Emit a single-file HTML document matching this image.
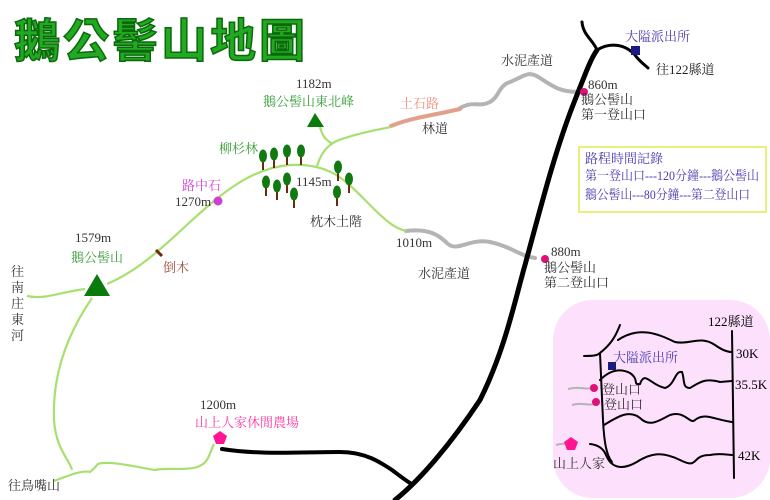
<!DOCTYPE html>
<html><head><meta charset="utf-8"><style>
html,body{margin:0;padding:0;background:#fff;}
svg{display:block;}
text{font-family:"Liberation Serif","Noto Serif CJK SC",serif;font-size:13px;}
</style></head><body>
<svg width="770" height="500" viewBox="0 0 770 500" xmlns="http://www.w3.org/2000/svg">
<!-- title -->
<text x="14" y="57" style="font-family:'Liberation Sans','Noto Sans CJK TC',sans-serif;font-size:46px;font-weight:bold;letter-spacing:3px" fill="#22a822" stroke="#0a6a0a" stroke-width="1.5">鵝公髻山地圖</text>

<!-- pink inset -->
<rect x="553" y="300" width="217" height="198" rx="40" fill="#fde0fb"/>

<!-- yellow box -->
<rect x="579" y="147" width="187" height="65" fill="#fff" stroke="#e6f07a" stroke-width="2"/>
<text x="585" y="163" fill="#4a3cb0" font-size="12">路程時間記錄</text>
<text x="585" y="180" fill="#4a3cb0" font-size="11.5" textLength="174" lengthAdjust="spacingAndGlyphs">第一登山口---120分鐘---鵝公髻山</text>
<text x="585" y="199" fill="#4a3cb0" font-size="11.5" textLength="165" lengthAdjust="spacingAndGlyphs">鵝公髻山---80分鐘---第二登山口</text>

<!-- gray roads -->
<g fill="none" stroke="#b4b4b4" stroke-width="4" stroke-linecap="round">
<path d="M460 108 C475 100,478 108,490 102 C500 96,498 86,510 82 C525 76,528 70,540 78 C552 86,560 92,578 92"/>
<path d="M406 231 C430 228,440 236,448 244 C458 252,470 238,490 242 C510 246,520 256,535 258"/>
</g>
<path d="M391 126 C410 118,430 116,460 109" fill="none" stroke="#e0a08c" stroke-width="4" stroke-linecap="round"/>

<!-- green trails -->
<g fill="none" stroke="#a8e070" stroke-width="2.2">
<path d="M27 296 C45 300,60 292,85 289"/>
<path d="M107 284 C140 270,165 245,190 222 C220 195,250 168,290 165 C330 163,345 180,365 200 C380 215,392 228,406 231"/>
<path d="M317 166 C322 150,330 142,345 138 C360 133,375 130,391 127"/>
<path d="M333 144 C325 140,322 135,320 127"/>
<path d="M92 298 C70 330,52 370,54 420 C56 450,70 460,72 470"/>
<path d="M54 481 C70 475,82 470,90 472 C95 468,96 466,98 464 C110 460,140 468,155 470 C170 466,200 475,208 458 C212 450,212 447,214 444"/>
</g>

<!-- black roads -->
<g fill="none" stroke="#000" stroke-linecap="round">
<path d="M395 500 C420 480,450 445,480 400 C505 350,515 300,525 265 C540 210,555 150,575 100 C585 75,590 60,597 50" stroke-width="5"/>
<path d="M597 50 C593 40,583 35,582 22" stroke-width="3"/>
<path d="M597 50 C610 42,625 44,635 55 C640 62,645 65,648 68" stroke-width="3"/>
<path d="M222 449 C260 455,300 452,340 452 C365 452,380 462,392 470 C400 476,405 480,410 483" stroke-width="4"/>
</g>

<!-- inset lines -->
<g fill="none" stroke="#000" stroke-width="2" stroke-linecap="round">
<path d="M732 331 L734 478"/>
<path d="M584 356 C595 356,598 355,600 353 L603 420 C604 440,606 455,612 462"/>
<path d="M600 353 C610 345,615 338,620 325"/>
<path d="M618 340 C640 325,660 335,675 342 C690 345,700 335,715 345 C722 350,728 352,732 352"/>
<path d="M600 380 C610 370,620 368,630 373 C640 380,632 385,640 384 C645 370,650 385,665 388 C675 385,675 370,682 372 C685 380,682 388,690 388 C700 382,705 378,720 382 L732 381"/>
<path d="M604 425 C620 415,630 410,640 418 C650 428,660 420,670 415 C685 410,690 425,695 420 C705 412,715 420,732 422"/>
<path d="M590 444 C600 445,604 450,606 455 C612 470,625 470,640 460 C650 455,660 450,680 460 C700 470,690 455,710 455 C720 453,728 455,732 455"/>
</g>
<g fill="none" stroke="#b4b4b4" stroke-width="2">
<path d="M568 389 C580 386,585 390,595 388"/>
<path d="M572 405 C582 402,588 406,596 404"/>
<path d="M556 445 C562 443,566 444,570 444"/>
</g>
<rect x="608" y="362" width="8" height="8" fill="#1a1a80"/>
<circle cx="594" cy="388" r="4" fill="#e0107a"/>
<circle cx="596" cy="402" r="4" fill="#e0107a"/>
<polygon points="571,437 578,442 575,450 567,450 564,442" fill="#ff1493"/>
<text x="708" y="326" fill="#000" font-size="12">122縣道</text>
<text x="736" y="358" fill="#000" font-size="12">30K</text>
<text x="735" y="389" fill="#000" font-size="12">35.5K</text>
<text x="738" y="460" fill="#000" font-size="12">42K</text>
<text x="613" y="362" fill="#4a3cb0" font-size="12">大隘派出所</text>
<text x="602" y="394" fill="#333" font-size="12">登山口</text>
<text x="604" y="409" fill="#333" font-size="12">登山口</text>
<text x="553" y="468" fill="#333" font-size="12">山上人家</text>

<!-- trees -->
<g>
<g fill="#6b2a10">
<rect x="262" y="158" width="2" height="12"/><rect x="273" y="156" width="2" height="12"/><rect x="286" y="153" width="2" height="12"/><rect x="300" y="153" width="2" height="12"/>
<rect x="265" y="184" width="2" height="12"/><rect x="276" y="188" width="2" height="12"/><rect x="286" y="181" width="2" height="12"/><rect x="293" y="196" width="2" height="12"/>
<rect x="337" y="169" width="2" height="12"/><rect x="348" y="181" width="2" height="12"/><rect x="336" y="194" width="2" height="12"/>
</g>
<g fill="#107a10">
<ellipse cx="263" cy="156" rx="4" ry="6.5"/><ellipse cx="274" cy="154" rx="4" ry="6.5"/><ellipse cx="287" cy="151" rx="4" ry="6.5"/><ellipse cx="301" cy="151" rx="4" ry="6.5"/>
<ellipse cx="266" cy="182" rx="4" ry="6.5"/><ellipse cx="277" cy="186" rx="4" ry="6.5"/><ellipse cx="287" cy="179" rx="4" ry="6.5"/><ellipse cx="294" cy="194" rx="4" ry="6.5"/>
<ellipse cx="338" cy="167" rx="4" ry="6.5"/><ellipse cx="349" cy="179" rx="4" ry="6.5"/><ellipse cx="337" cy="192" rx="4" ry="6.5"/>
</g>
</g>

<!-- markers -->
<polygon points="84,296 97,274 110,296" fill="#0a7a0a"/>
<polygon points="307,127 315,113 324,127" fill="#0a7a0a"/>
<circle cx="218" cy="201" r="4.5" fill="#d040d0"/>
<circle cx="584" cy="92" r="4" fill="#e0107a"/>
<circle cx="545" cy="259" r="4" fill="#e0107a"/>
<polygon points="220,431 227,436 224,444 216,444 213,436" fill="#ff1493"/>
<rect x="631" y="46" width="9" height="9" fill="#1a1a80"/>
<path d="M156 250 L162 256" stroke="#6b2a10" stroke-width="3"/>

<!-- labels -->
<text x="296" y="88" fill="#333" font-size="12">1182m</text>
<text x="263" y="106" fill="#3aa03a" font-size="13">鵝公髻山東北峰</text>
<text x="219" y="153" fill="#3aa03a" font-size="12">柳杉林</text>
<text x="182" y="190" fill="#d040d0" font-size="13">路中石</text>
<text x="175" y="206" fill="#333" font-size="12">1270m</text>
<text x="296" y="186" fill="#333" font-size="12">1145m</text>
<text x="310" y="226" fill="#333" font-size="12">枕木土階</text>
<text x="75" y="242" fill="#333" font-size="12">1579m</text>
<text x="71" y="262" fill="#3aa03a" font-size="13">鵝公髻山</text>
<text x="163" y="272" fill="#a05040" font-size="12">倒木</text>
<g fill="#333" font-size="12">
<text x="11" y="276">往</text><text x="11" y="292">南</text><text x="11" y="308">庄</text><text x="11" y="324">東</text><text x="11" y="340">河</text>
</g>
<text x="8" y="490" fill="#333" font-size="12">往鳥嘴山</text>
<text x="200" y="409" fill="#333" font-size="12">1200m</text>
<text x="195" y="427" fill="#ff3aa0" font-size="13">山上人家休閒農場</text>
<text x="400" y="108" fill="#f09080" font-size="13">土石路</text>
<text x="422" y="133" fill="#333" font-size="13">林道</text>
<text x="501" y="65" fill="#333" font-size="13">水泥產道</text>
<text x="396" y="247" fill="#333" font-size="12">1010m</text>
<text x="418" y="278" fill="#333" font-size="13">水泥產道</text>
<text x="588" y="89" fill="#333" font-size="12">860m</text>
<text x="581" y="104" fill="#333" font-size="13">鵝公髻山</text>
<text x="581" y="119" fill="#333" font-size="13">第一登山口</text>
<text x="551" y="256" fill="#333" font-size="12">880m</text>
<text x="544" y="272" fill="#333" font-size="13">鵝公髻山</text>
<text x="544" y="287" fill="#333" font-size="13">第二登山口</text>
<text x="625" y="41" fill="#4a3cb0" font-size="13">大隘派出所</text>
<text x="656" y="74" fill="#222" font-size="15">往122縣道</text>
</svg>
</body></html>
